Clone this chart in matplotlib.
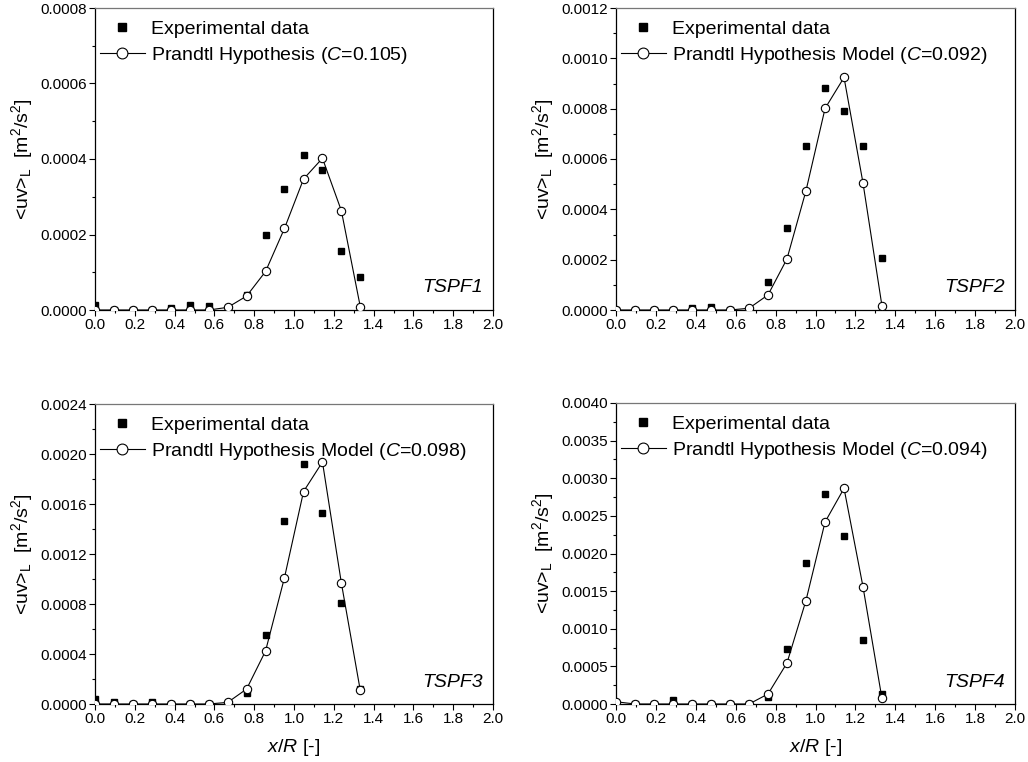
import matplotlib
matplotlib.use("Agg")
import matplotlib.pyplot as plt
from matplotlib.ticker import MultipleLocator, FormatStrFormatter

plt.rcParams['font.family'] = ['Liberation Sans', 'DejaVu Sans']
plt.rcParams['mathtext.fontset'] = 'custom'
plt.rcParams['mathtext.rm'] = 'Liberation Sans'
plt.rcParams['mathtext.it'] = 'Liberation Sans:italic'
plt.rcParams['mathtext.bf'] = 'Liberation Sans:bold'

x_R = [0.0, 0.095, 0.19, 0.286, 0.381, 0.476, 0.571, 0.667, 0.762, 0.857,
       0.952, 1.048, 1.143, 1.238, 1.333]

exp_tspf1 = [0.000012, 0.0, 0.0, 0.0, 0.000004, 0.000013, 0.00001, 0.000003,
             0.000041, 0.000199, 0.00032, 0.000411, 0.000372, 0.000156, 0.000087]
model_tspf1 = [0.0, 0.0, 0.0, 0.0, 0.0, 0.0, 0.0, 0.000007,
               0.000037, 0.000102, 0.000216, 0.000347, 0.000402, 0.000263, 0.000009]

exp_tspf2 = [0.0, 0.0, 0.0, 0.0, 0.000007, 0.00001, 0.0, 0.0,
             0.00011, 0.000324, 0.00065, 0.000883, 0.000789, 0.00065, 0.000206]
model_tspf2 = [0.0, 0.0, 0.0, 0.0, 0.0, 0.0, 0.0, 0.000007,
               0.00006, 0.000203, 0.000473, 0.000801, 0.000924, 0.000505, 0.000017]

exp_tspf3 = [0.00004, 0.000013, 0.0, 0.000013, 0.0, 0.0, 0.0, 0.0,
             0.000088, 0.000555, 0.001464, 0.00192, 0.00153, 0.000808, 0.00012]
model_tspf3 = [0.0, 0.0, 0.0, 0.0, 0.0, 0.0, 0.0, 0.000013,
               0.00012, 0.000424, 0.00101, 0.0017, 0.001936, 0.000968, 0.000109]

exp_tspf4 = [0.0, 0.0, 0.0, 0.00005, 0.0, 0.0, 0.0, 0.0,
             0.00009, 0.00073, 0.001874, 0.002795, 0.002233, 0.000846, 0.000133]
model_tspf4 = [0.00003, 0.0, 0.0, 0.0, 0.0, 0.0, 0.0, 0.0,
               0.000133, 0.000545, 0.001373, 0.002419, 0.002866, 0.001559, 0.000075]

case_names = ["TSPF1", "TSPF2", "TSPF3", "TSPF4"]
model_labels = ["Prandtl Hypothesis ($C$=0.105)",
                "Prandtl Hypothesis Model ($C$=0.092)",
                "Prandtl Hypothesis Model ($C$=0.098)",
                "Prandtl Hypothesis Model ($C$=0.094)"]
y_max = [0.0008, 0.0012, 0.0024, 0.0040]
y_major = [0.0002, 0.0002, 0.0004, 0.0005]

exps = [exp_tspf1, exp_tspf2, exp_tspf3, exp_tspf4]
models = [model_tspf1, model_tspf2, model_tspf3, model_tspf4]

fig = plt.figure(figsize=(10.28, 7.62), dpi=100)
W, H = 1028, 762
boxes = [(95, 8, 493, 310), (616, 8, 1015, 310),
         (95, 404, 493, 704), (616, 403, 1015, 704)]

for i in range(4):
    l, t, r, b = boxes[i]
    ax = fig.add_axes([l / W, 1 - b / H, (r - l) / W, (b - t) / H])
    ax.plot(x_R, exps[i], linestyle='none', marker='s', color='black',
            markersize=4.5, label='Experimental data', zorder=2)
    ax.plot(x_R, models[i], color='black', linewidth=0.8, marker='o',
            markerfacecolor='white', markeredgecolor='black',
            markeredgewidth=0.8, markersize=6, label=model_labels[i], zorder=3)
    ax.set_xlim(0, 2.0)
    ax.set_ylim(0, y_max[i])
    ax.xaxis.set_major_locator(MultipleLocator(0.2))
    ax.xaxis.set_minor_locator(MultipleLocator(0.1))
    ax.yaxis.set_major_locator(MultipleLocator(y_major[i]))
    ax.yaxis.set_minor_locator(MultipleLocator(y_major[i] / 2))
    ax.xaxis.set_major_formatter(FormatStrFormatter('%.1f'))
    ax.yaxis.set_major_formatter(FormatStrFormatter('%.4f'))
    ax.tick_params(which='major', direction='out', length=4, width=0.8,
                   labelsize=11, pad=1.5, top=False, right=False)
    ax.tick_params(which='minor', direction='out', length=2.5, width=0.8,
                   top=False, right=False)
    for s in ax.spines.values():
        s.set_linewidth(0.9)
    ax.spines['top'].set_color('#777777')
    ax.set_ylabel(r'<uv>$_{\mathrm{L}}$  [m$^2$/s$^2$]', fontsize=14, labelpad=4)
    if i >= 2:
        ax.set_xlabel(r'$x/R$ [-]', fontsize=14, labelpad=8)
    ax.text(0.975, 0.073, case_names[i], transform=ax.transAxes, ha='right',
            va='center', fontsize=14, style='italic')
    ax.legend(loc='upper left', bbox_to_anchor=(0.0, 0.975), frameon=False,
              fontsize=14, handlelength=2.3, handletextpad=0.35,
              labelspacing=0.35, markerscale=1.3, borderaxespad=0.0,
              borderpad=0.25)

fig.savefig('out.png', dpi=100)
